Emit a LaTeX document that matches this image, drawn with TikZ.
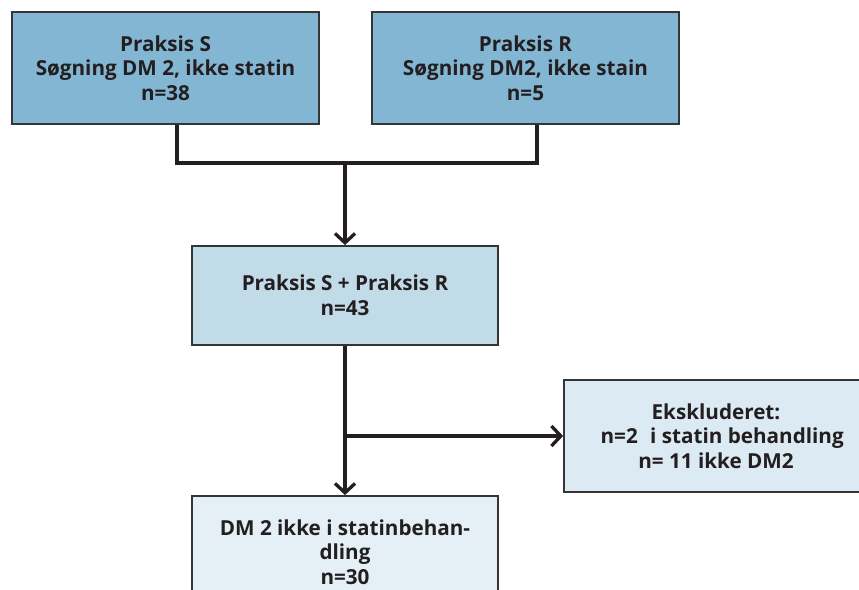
\documentclass[tikz,border=0pt]{standalone}
\usepackage{fontspec}
\setmainfont{Open Sans}
\usetikzlibrary{arrows.meta}
\definecolor{boxdark}{HTML}{83B6D3}
\definecolor{boxmid}{HTML}{C2DBE8}
\definecolor{boxexcl}{HTML}{DCEAF3}
\definecolor{boxlight}{HTML}{E4EFF6}
\definecolor{ink}{HTML}{231F20}
\definecolor{frame}{HTML}{333537}
\tikzset{
  box/.style={draw=frame, line width=1.4pt, align=center, text=ink,
    font=\fontsize{15.5pt}{18.4pt}\selectfont\bfseries, inner sep=0pt},
  conn/.style={draw=ink, line width=2.5pt},
  arr/.style={conn, -{Straight Barb[length=7pt,width=15pt,line width=2.5pt]}},
}
\begin{document}
\begin{tikzpicture}[x=0.75pt,y=-0.75pt]
\useasboundingbox (0,0) rectangle (859,589);
\clip (0,0) rectangle (859,589);
\node[box, fill=boxdark, minimum width=307*0.75pt, minimum height=112*0.75pt] (s) at (165.5,68)
  {Praksis S\\Søgning DM 2, ikke statin\\n=38};
\node[box, fill=boxdark, minimum width=307*0.75pt, minimum height=112*0.75pt] (r) at (525.5,68)
  {Praksis R\\Søgning DM2, ikke stain\\n=5};
\node[box, fill=boxmid, minimum width=306*0.75pt, minimum height=99*0.75pt] (sr) at (345,295.5)
  {Praksis S + Praksis R\\n=43};
\node[box, fill=boxexcl, minimum width=304*0.75pt, minimum height=112*0.75pt] (ex) at (716,436)
  {Ekskluderet:\\\hspace*{0.6em}n=2\hspace{0.6em}i statin behandling\\n= 11 ikke DM2};
\node[box, fill=boxlight, minimum width=306*0.75pt, minimum height=112*0.75pt] (dm) at (345,552)
  {DM 2 ikke i statinbehan-\\dling\\n=30};
\coordinate (m1) at (177,163);
\coordinate (m2) at (537,163);
\coordinate (m) at (345,163);
\coordinate (b) at (345,436);
\draw[conn] (s.south -| m1) -- (m1) -- (m2) -- (r.south -| m2);
\draw[arr] (m) -- (sr.north);
\draw[arr] (sr.south) -- (dm.north);
\draw[arr] (b) -- (ex.west);
\end{tikzpicture}
\end{document}
